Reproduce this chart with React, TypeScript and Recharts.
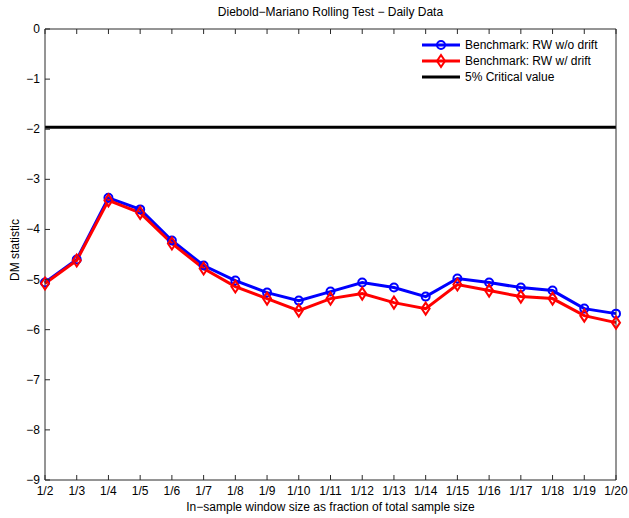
import React from 'react';
import { LineChart, Line, XAxis, YAxis, ReferenceLine } from 'recharts';

// fraction of total sample used as in-sample window
const windows = ['1/2', '1/3', '1/4', '1/5', '1/6', '1/7', '1/8', '1/9', '1/10', '1/11', '1/12', '1/13', '1/14', '1/15', '1/16', '1/17', '1/18', '1/19', '1/20'];
const rwNoDrift = [-5.06, -4.6, -3.37, -3.6, -4.22, -4.72, -5.02, -5.26, -5.42, -5.24, -5.06, -5.16, -5.34, -4.98, -5.06, -5.16, -5.22, -5.58, -5.68];
const rwDrift = [-5.08, -4.62, -3.42, -3.67, -4.28, -4.78, -5.14, -5.38, -5.62, -5.38, -5.28, -5.46, -5.58, -5.1, -5.22, -5.34, -5.38, -5.72, -5.86];
const yTicks = [0, -1, -2, -3, -4, -5, -6, -7, -8, -9];
const criticalValue = -1.96;

const data = windows.map((w, i) => ({ name: w, noDrift: rwNoDrift[i], drift: rwDrift[i] }));

const FONT = '"Liberation Sans", Arial, sans-serif';
const AXIS = '#2a2a2a';

const fmt = (v: number) => (v < 0 ? '\u2212' + Math.abs(v) : String(v));

const LeftTick = (props: any) => {
  const { x, y, payload } = props;
  return (
    <g>
      <line x1={x} y1={y} x2={x + 5} y2={y} stroke={AXIS} />
      <text x={x - 5} y={y + 4} textAnchor="end" fontSize={12} fontFamily={FONT} fill="#000">{fmt(payload.value)}</text>
    </g>
  );
};

const RightTick = (props: any) => {
  const { x, y } = props;
  return <line x1={x} y1={y} x2={x - 5} y2={y} stroke={AXIS} />;
};

const BottomTick = (props: any) => {
  const { x, y, payload } = props;
  return (
    <g>
      <line x1={x} y1={y} x2={x} y2={y - 5} stroke={AXIS} />
      <text x={x} y={y + 15} textAnchor="middle" fontSize={12} fontFamily={FONT} fill="#000">{payload.value}</text>
    </g>
  );
};

const TopTick = (props: any) => {
  const { x, y } = props;
  return <line x1={x} y1={y} x2={x} y2={y + 5} stroke={AXIS} />;
};

const Diamond = (props: any) => {
  const { cx, cy } = props;
  if (cx == null || cy == null) return null;
  return <path d={`M${cx},${cy - 6} L${cx + 4},${cy} L${cx},${cy + 6} L${cx - 4},${cy} Z`} fill="none" stroke="#ff0000" strokeWidth={2} />;
};

const LegendBox = () => {
  const rows = [
    { label: 'Benchmark: RW w/o drift', color: '#0000ff', marker: 'circle' },
    { label: 'Benchmark: RW w/ drift', color: '#ff0000', marker: 'diamond' },
    { label: '5% Critical value', color: '#000000', marker: 'none' },
  ];
  return (
    <svg width={200} height={54}>
      {rows.map((r, i) => {
        const y = 8 + i * 16;
        return (
          <g key={r.label}>
            <line x1={2} y1={y} x2={40} y2={y} stroke={r.color} strokeWidth={3} />
            {r.marker === 'circle' && <circle cx={21} cy={y} r={4} fill="none" stroke={r.color} strokeWidth={2} />}
            {r.marker === 'diamond' && <path d={`M21,${y - 6} L25,${y} L21,${y + 6} L17,${y} Z`} fill="none" stroke={r.color} strokeWidth={2} />}
            <text x={45} y={y + 4} fontSize={12} fontFamily={FONT} fill="#000">{r.label}</text>
          </g>
        );
      })}
    </svg>
  );
};

export default function App() {
  return (
    <div style={{ position: 'absolute', left: 0, top: 0, width: 629, height: 518, background: '#fff', fontFamily: FONT }}>
      <div style={{ position: 'absolute', top: 5, left: 45, width: 571, textAlign: 'center', fontSize: 12 }}>
        Diebold{'\u2212'}Mariano Rolling Test {'\u2212'} Daily Data
      </div>
      <div style={{ position: 'absolute', top: 500, left: 45, width: 571, textAlign: 'center', fontSize: 12 }}>
        In{'\u2212'}sample window size as fraction of total sample size
      </div>
      <div style={{ position: 'absolute', left: 15, top: 250, transform: 'translate(-50%, -50%) rotate(-90deg)', fontSize: 12, whiteSpace: 'nowrap' }}>
        DM statistic
      </div>
      <LineChart width={629} height={518} data={data} margin={{ top: 28, right: 12, bottom: 37, left: 44 }}>
        <XAxis dataKey="name" height={1} tickSize={0} tickMargin={0} axisLine={{ stroke: AXIS }} tick={<BottomTick />} interval={0} />
        <XAxis xAxisId="top" dataKey="name" orientation="top" height={1} tickSize={0} tickMargin={0} axisLine={{ stroke: AXIS }} tick={<TopTick />} interval={0} />
        <YAxis domain={[-9, 0]} ticks={yTicks} width={1} tickSize={0} tickMargin={0} axisLine={{ stroke: AXIS }} tick={<LeftTick />} interval={0} />
        <YAxis yAxisId="right" orientation="right" domain={[-9, 0]} ticks={yTicks} width={1} tickSize={0} tickMargin={0} axisLine={{ stroke: AXIS }} tick={<RightTick />} interval={0} />
        <ReferenceLine y={criticalValue} stroke="#000" strokeWidth={3} />
        <Line dataKey="noDrift" stroke="#0000ff" strokeWidth={3} isAnimationActive={false}
          dot={{ r: 4, fill: 'none', stroke: '#0000ff', strokeWidth: 2 }} />
        <Line dataKey="drift" stroke="#ff0000" strokeWidth={3} isAnimationActive={false} dot={<Diamond />} />
      </LineChart>
      <div style={{ position: 'absolute', top: 37, left: 420 }}>
        <LegendBox />
      </div>
    </div>
  );
}
